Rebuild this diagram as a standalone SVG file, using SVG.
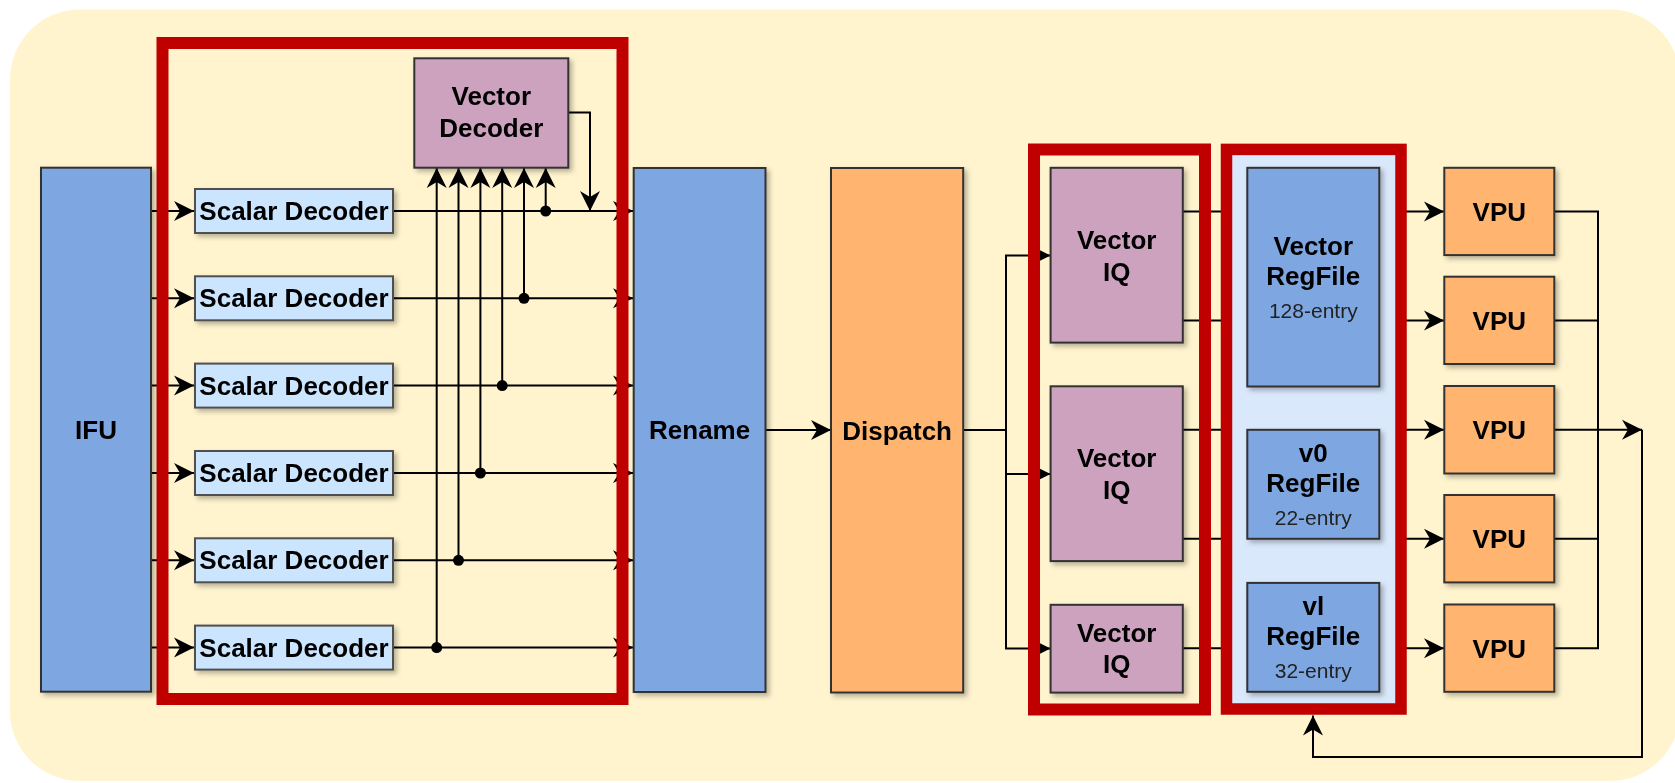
<svg xmlns="http://www.w3.org/2000/svg" width="1675" height="783" viewBox="0 0 1675 783">
<style>
.box{stroke:#333333;stroke-width:2}
.blue{fill:#7EA6E0}
.sd{fill:#CCE5FF;stroke:#505050;stroke-width:2}
.pur{fill:#CDA2BE}
.org{fill:#FFB570}
.red{fill:none;stroke:#C00000;stroke-width:12}
.t{font-family:"Liberation Sans",Arial,Helvetica,sans-serif;font-weight:bold;font-size:26px;fill:#000;text-anchor:middle}
.s{font-family:"Liberation Sans",Arial,Helvetica,sans-serif;font-size:21px;fill:#222;text-anchor:middle}
.ln{fill:none;stroke:#000;stroke-width:2}
.ar{marker-end:url(#arr)}
</style>
<defs>
<marker id="arr" markerUnits="userSpaceOnUse" viewBox="0 0 22 22" markerWidth="22" markerHeight="22" refX="21" refY="11" orient="auto">
<path d="M21,11 L1,1 L7,11 L1,21 Z" fill="#000"/>
</marker>
<filter id="sh" x="-20%" y="-20%" width="140%" height="140%">
<feDropShadow dx="3" dy="3" stdDeviation="2.5" flood-color="#000" flood-opacity="0.28"/>
</filter>
</defs>
<rect x="10" y="9.5" width="1670" height="771.5" rx="70" ry="70" fill="#FFF4CE"/>

<g id="connectors">
<path class="ln ar" d="M151,211 H194"/>
<path class="ln ar" d="M151,298.3 H194"/>
<path class="ln ar" d="M151,385.6 H194"/>
<path class="ln ar" d="M151,473 H194"/>
<path class="ln ar" d="M151,560.3 H194"/>
<path class="ln ar" d="M151,647.6 H194"/>
<path class="ln ar" d="M393,211 H633"/>
<path class="ln ar" d="M393,298.3 H633"/>
<path class="ln ar" d="M393,385.6 H633"/>
<path class="ln ar" d="M393,473 H633"/>
<path class="ln ar" d="M393,560.3 H633"/>
<path class="ln ar" d="M393,647.6 H633"/>
<path class="ln ar" d="M545.7,211 V168"/>
<path class="ln ar" d="M524,298.3 V168"/>
<path class="ln ar" d="M502.2,385.6 V168"/>
<path class="ln ar" d="M480.4,473 V168"/>
<path class="ln ar" d="M458.5,560.3 V168"/>
<path class="ln ar" d="M436.7,647.6 V168"/>
<circle cx="545.7" cy="211" r="5.5"/>
<circle cx="524" cy="298.3" r="5.5"/>
<circle cx="502.2" cy="385.6" r="5.5"/>
<circle cx="480.4" cy="473" r="5.5"/>
<circle cx="458.5" cy="560.3" r="5.5"/>
<circle cx="436.7" cy="647.6" r="5.5"/>
<path class="ln ar" d="M568,112.5 H590 V211"/>
<path class="ln ar" d="M765.5,430 H831"/>
<path class="ln ar" d="M963,430 H1006 V255.5 H1050.5"/>
<path class="ln ar" d="M963,430 H1006 V474 H1050.5"/>
<path class="ln ar" d="M963,430 H1006 V648.5 H1050.5"/>
<path class="ln ar" d="M1183,211.4 H1444"/>
<path class="ln ar" d="M1183,320.4 H1444"/>
<path class="ln ar" d="M1183,429.8 H1444"/>
<path class="ln ar" d="M1183,538.7 H1444"/>
<path class="ln ar" d="M1183,648.2 H1444"/>
<path class="ln" d="M1554,211.4 H1598 V648.2 H1554"/>
<path class="ln" d="M1554,320.4 H1598"/>
<path class="ln" d="M1554,538.7 H1598"/>
<path class="ln ar" d="M1554,429.8 H1642"/>
<path class="ln ar" d="M1642,429.8 V757 H1313 V715.5"/>
</g>

<g id="decode-group"><rect class="red" x="162.5" y="43" width="460" height="656"/></g>
<g id="iq-group"><rect class="red" x="1034" y="149.5" width="171" height="560" stroke-width="11.5"/></g>
<g id="regfile-group"><rect x="1226.5" y="149.4" width="174.5" height="559.6" fill="#DAE8FC" stroke="#C00000" stroke-width="11.5"/></g>

<g id="ifu" filter="url(#sh)"><rect class="box blue" x="41" y="167.7" width="110" height="524"/><text class="t" x="96" y="439">IFU</text></g>

<g id="scalar-decoder-1" filter="url(#sh)"><rect class="sd" x="195" y="189" width="198" height="44"/><text class="t" x="294" y="220">Scalar Decoder</text></g>
<g id="scalar-decoder-2" filter="url(#sh)"><rect class="sd" x="195" y="276.3" width="198" height="44"/><text class="t" x="294" y="307.3">Scalar Decoder</text></g>
<g id="scalar-decoder-3" filter="url(#sh)"><rect class="sd" x="195" y="363.6" width="198" height="44"/><text class="t" x="294" y="394.6">Scalar Decoder</text></g>
<g id="scalar-decoder-4" filter="url(#sh)"><rect class="sd" x="195" y="451" width="198" height="44"/><text class="t" x="294" y="482">Scalar Decoder</text></g>
<g id="scalar-decoder-5" filter="url(#sh)"><rect class="sd" x="195" y="538.3" width="198" height="44"/><text class="t" x="294" y="569.3">Scalar Decoder</text></g>
<g id="scalar-decoder-6" filter="url(#sh)"><rect class="sd" x="195" y="625.6" width="198" height="44"/><text class="t" x="294" y="656.6">Scalar Decoder</text></g>

<g id="vector-decoder" filter="url(#sh)"><rect class="box pur" x="414.3" y="58.3" width="154" height="109.4"/><text class="t" x="491.3" y="105">Vector</text><text class="t" x="491.3" y="136.7">Decoder</text></g>

<g id="rename" filter="url(#sh)"><rect class="box blue" x="633.7" y="168" width="131.8" height="524"/><text class="t" x="699.6" y="438.7">Rename</text></g>
<g id="dispatch" filter="url(#sh)"><rect class="box org" x="831" y="168" width="132.2" height="524.5"/><text class="t" x="897.1" y="439.5">Dispatch</text></g>

<g id="vector-iq-1" filter="url(#sh)"><rect class="box pur" x="1050.6" y="167.8" width="132.2" height="174.8"/><text class="t" x="1116.7" y="249.3">Vector</text><text class="t" x="1116.7" y="280.8">IQ</text></g>
<g id="vector-iq-2" filter="url(#sh)"><rect class="box pur" x="1050.6" y="386.3" width="132.2" height="174.8"/><text class="t" x="1116.7" y="467">Vector</text><text class="t" x="1116.7" y="499">IQ</text></g>
<g id="vector-iq-3" filter="url(#sh)"><rect class="box pur" x="1050.6" y="604.8" width="132.2" height="87.8"/><text class="t" x="1116.7" y="642">Vector</text><text class="t" x="1116.7" y="673.3">IQ</text></g>

<g id="vector-regfile" filter="url(#sh)"><rect class="box blue" x="1247.3" y="167.8" width="132" height="218.7"/><text class="t" x="1313.3" y="254.6">Vector</text><text class="t" x="1313.3" y="285.3">RegFile</text><text class="s" x="1313.3" y="318">128-entry</text></g>
<g id="v0-regfile" filter="url(#sh)"><rect class="box blue" x="1247.3" y="429.8" width="132" height="109"/><text class="t" x="1313.3" y="462.3">v0</text><text class="t" x="1313.3" y="492.2">RegFile</text><text class="s" x="1313.3" y="525">22-entry</text></g>
<g id="vl-regfile" filter="url(#sh)"><rect class="box blue" x="1247.3" y="582.9" width="132" height="108.9"/><text class="t" x="1313.3" y="615.3">vl</text><text class="t" x="1313.3" y="645.3">RegFile</text><text class="s" x="1313.3" y="678">32-entry</text></g>

<g id="vpu-1" filter="url(#sh)"><rect class="box org" x="1444.3" y="167.8" width="110" height="87.3"/><text class="t" x="1499.3" y="220.7">VPU</text></g>
<g id="vpu-2" filter="url(#sh)"><rect class="box org" x="1444.3" y="276.7" width="110" height="87.3"/><text class="t" x="1499.3" y="329.7">VPU</text></g>
<g id="vpu-3" filter="url(#sh)"><rect class="box org" x="1444.3" y="386" width="110" height="87.5"/><text class="t" x="1499.3" y="439.1">VPU</text></g>
<g id="vpu-4" filter="url(#sh)"><rect class="box org" x="1444.3" y="495" width="110" height="87.4"/><text class="t" x="1499.3" y="548">VPU</text></g>
<g id="vpu-5" filter="url(#sh)"><rect class="box org" x="1444.3" y="604.5" width="110" height="87.3"/><text class="t" x="1499.3" y="657.5">VPU</text></g>
</svg>
